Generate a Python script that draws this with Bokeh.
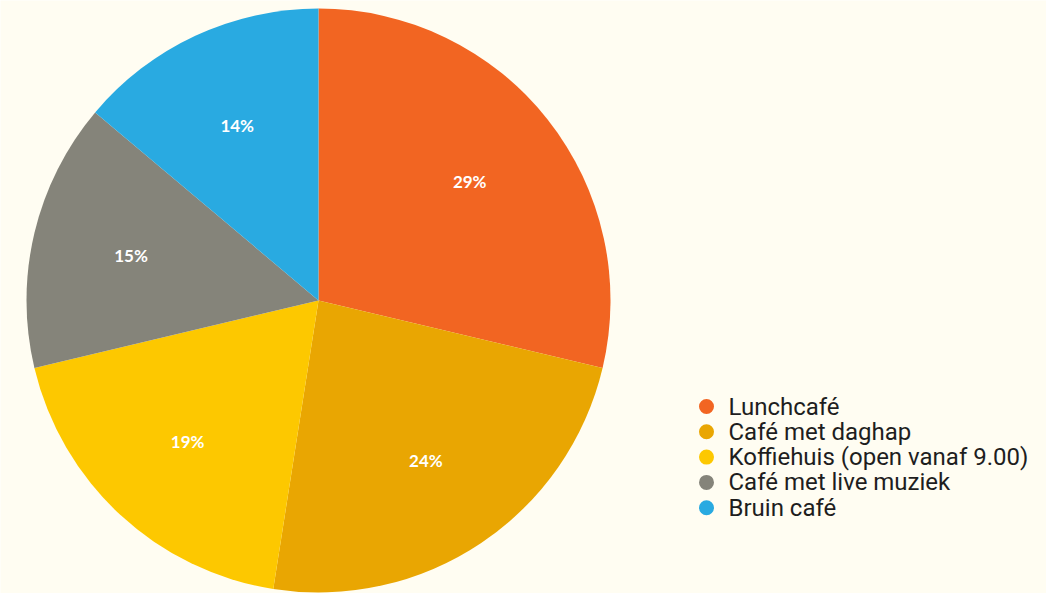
import math
from bokeh.plotting import figure
from bokeh.models import ColumnDataSource, Range1d
from bokeh.core.properties import value
from bokeh.embed import file_html
from bokeh.resources import INLINE

categories = ["Lunchcafé", "Café met daghap", "Koffiehuis (open vanaf 9.00)",
              "Café met live muziek", "Bruin café"]
values = [29, 24, 19, 15, 14]
labels = ["29%", "24%", "19%", "15%", "14%"]
colors = ["#f26522", "#e9a602", "#fdc800", "#85847a", "#29aae1"]

BG = "#fffdf2"
W, H = 1046, 593
CX, CY, R = 318, -300, 292

total = float(sum(values))
starts, ends, lx, ly = [], [], [], []
cum = 0.0
for v in values:
    a0 = math.pi / 2 - 2 * math.pi * cum / total
    cum += v
    a1 = math.pi / 2 - 2 * math.pi * cum / total
    starts.append(a1)
    ends.append(a0)
    mid = (a0 + a1) / 2
    lx.append(CX + 0.66 * R * math.cos(mid))
    ly.append(CY + 0.66 * R * math.sin(mid))

src = ColumnDataSource(dict(start=starts, end=ends, color=colors,
                            lx=lx, ly=ly, label=labels))

p = figure(width=W, height=H, output_backend="svg", toolbar_location=None,
           x_range=Range1d(0, W), y_range=Range1d(-H, 0),
           min_border=0, background_fill_color=BG, border_fill_color=BG)
p.axis.visible = False
p.grid.visible = False
p.outline_line_color = None

p.wedge(x=CX, y=CY, radius=R, start_angle="start", end_angle="end",
        direction="anticlock", fill_color="color", line_color=None, source=src)

p.text(x="lx", y="ly", text="label", source=src, text_color="white",
       text_font=value("Lato"), text_font_style="bold", text_font_size="17px",
       text_align="center", text_baseline="middle")

# legend
leg_y = [-406 - 25.3 * i for i in range(len(categories))]
leg = ColumnDataSource(dict(y=leg_y, cat=categories, color=colors))
p.scatter(x=706, y="y", size=15, marker="circle", fill_color="color",
          line_color=None, source=leg)
p.text(x=728, y="y", text="cat", source=leg, text_color="#1e1e1e",
       text_font=value("Roboto"), text_font_size="24px",
       text_align="left", text_baseline="middle")

html = file_html(p, INLINE)
open("out.html", "w").write(html)
